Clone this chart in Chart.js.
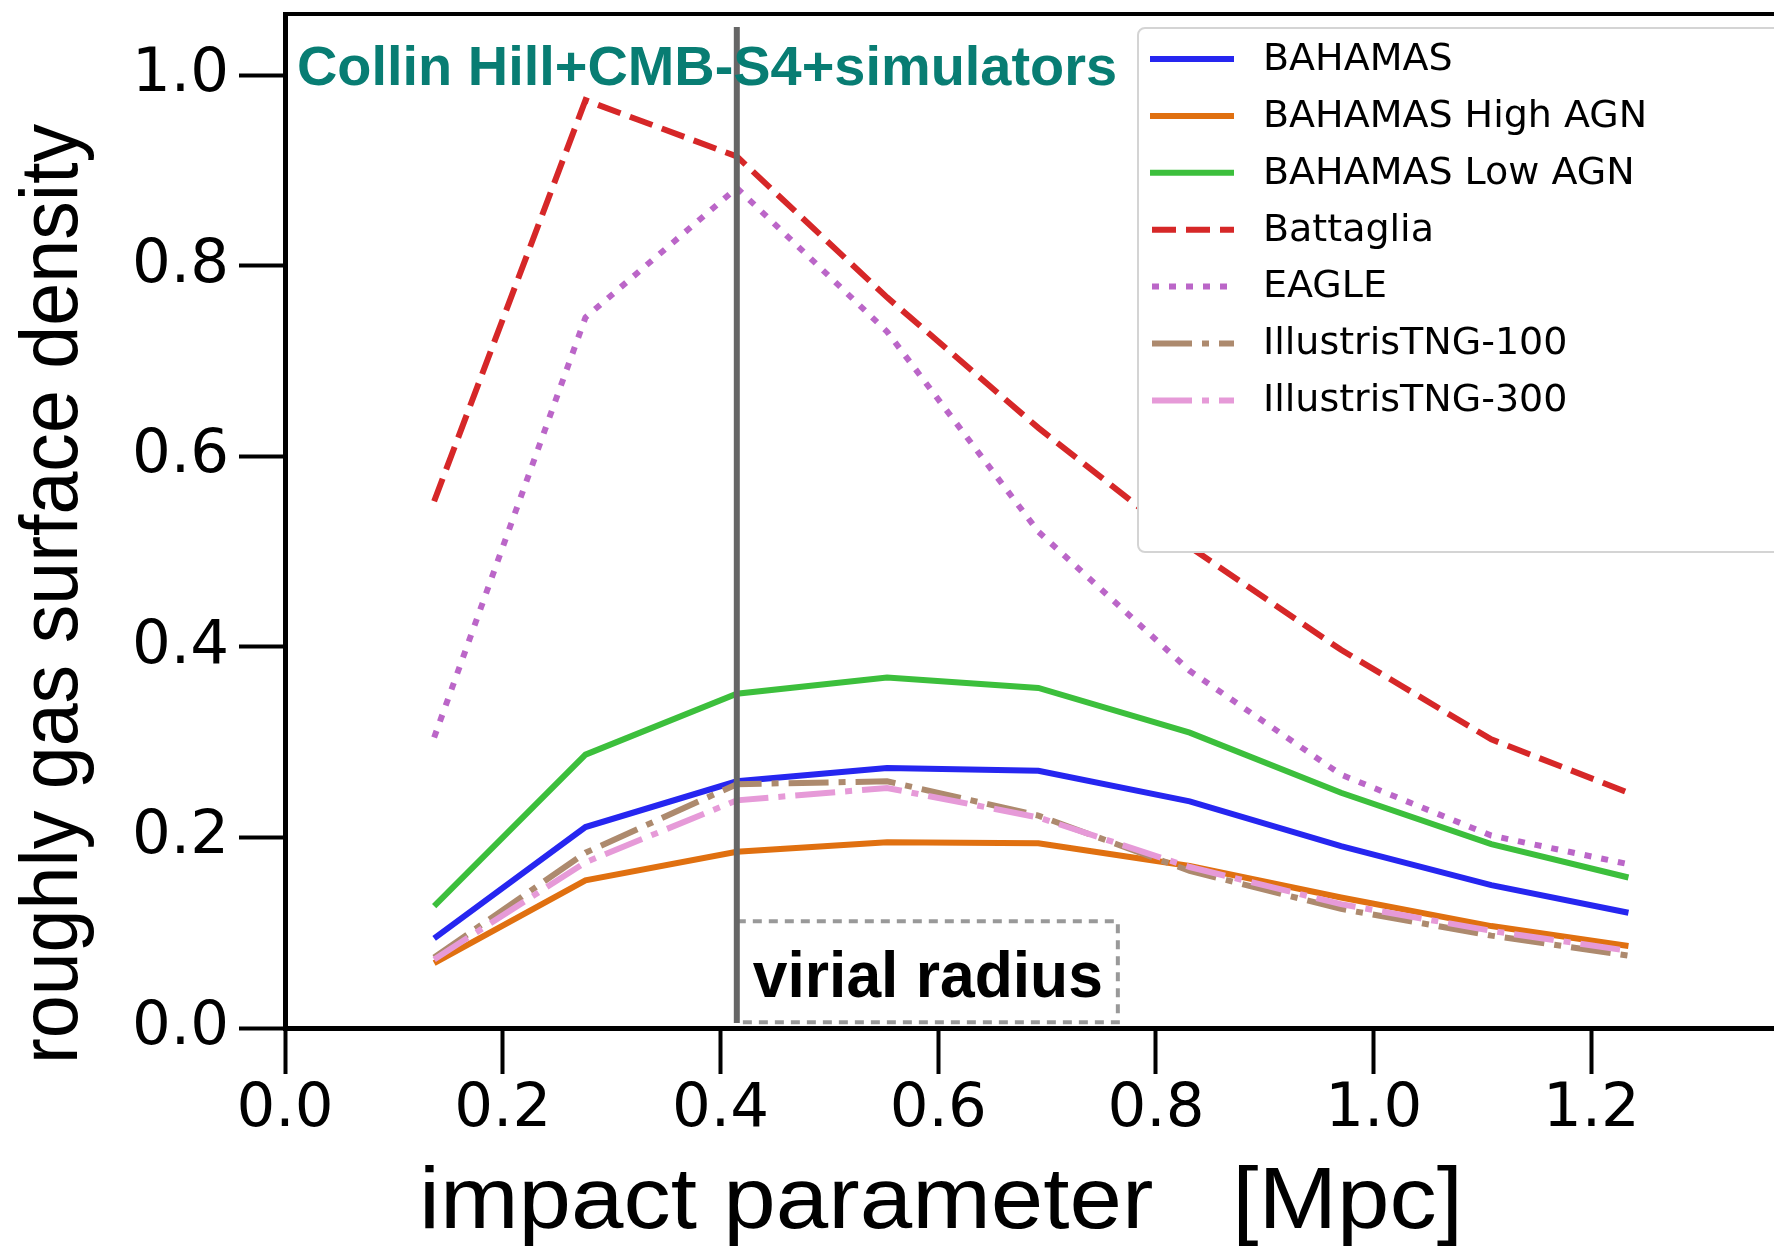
<!DOCTYPE html>
<html>
<head>
<meta charset="utf-8">
<title>roughly gas surface density</title>
<script src="https://cdn.jsdelivr.net/npm/chart.js@4.4.1/dist/chart.umd.min.js"></script>
<style>
  html, body { margin: 0; padding: 0; background: #fff; }
  #wrap { width: 1774px; height: 1248px; }
</style>
</head>
<body>
<div id="wrap"><canvas id="profile-chart" width="1774" height="1248"></canvas></div>
<script>
// impact parameter [Mpc] of each bin
const impactParameter = [0.137, 0.276, 0.415, 0.553, 0.692, 0.831, 0.970, 1.108, 1.234];

const bahamas = [0.094, 0.211, 0.259, 0.273, 0.270, 0.238, 0.191, 0.150, 0.121];
const bahamasHighAGN = [0.068, 0.155, 0.185, 0.195, 0.194, 0.170, 0.137, 0.107, 0.086];
const bahamasLowAGN = [0.128, 0.287, 0.351, 0.368, 0.357, 0.310, 0.247, 0.193, 0.158];
const battaglia = [0.553, 0.974, 0.915, 0.767, 0.630, 0.505, 0.397, 0.303, 0.247];
const eagle = [0.305, 0.746, 0.882, 0.731, 0.521, 0.375, 0.266, 0.202, 0.172];
const tng100 = [0.074, 0.184, 0.256, 0.259, 0.223, 0.165, 0.125, 0.097, 0.076];
const tng300 = [0.072, 0.174, 0.239, 0.252, 0.221, 0.169, 0.130, 0.102, 0.081];

const xTicks = [0, 0.2, 0.4, 0.6, 0.8, 1.0, 1.2];
const yTicks = [0, 0.2, 0.4, 0.6, 0.8, 1.0];

// virial radius marker and its label box (data units)
const virialRadius = 0.415;
const virialBoxRight = 0.765;
const virialBoxTop = 0.112;
const virialBoxBottom = 0.006;

const series = [
  { label: "BAHAMAS", values: bahamas, color: "#2626f0", dash: [] },
  { label: "BAHAMAS High AGN", values: bahamasHighAGN, color: "#e07010", dash: [] },
  { label: "BAHAMAS Low AGN", values: bahamasLowAGN, color: "#3cbf3c", dash: [] },
  { label: "Battaglia", values: battaglia, color: "#d62728", dash: [24, 10] },
  { label: "EAGLE", values: eagle, color: "#bb66c8", dash: [7, 10] },
  { label: "IllustrisTNG-100", values: tng100, color: "#ad8a6e", dash: [40, 10, 7, 10] },
  { label: "IllustrisTNG-300", values: tng300, color: "#e69ad8", dash: [40, 10, 7, 10] }
];

function fitText(ctx, text, x, y, width) {
  const w = ctx.measureText(text).width;
  ctx.save();
  ctx.translate(x, y);
  ctx.scale(width / w, 1);
  ctx.fillText(text, 0, 0);
  ctx.restore();
}

const decorations = {
  id: "decorations",
  afterDatasetsDraw(chart) {
    const { ctx, chartArea, scales: { x, y } } = chart;
    ctx.save();

    // top frame
    ctx.strokeStyle = "#000";
    ctx.lineWidth = 4;
    ctx.beginPath();
    ctx.moveTo(chartArea.left - 2, chartArea.top);
    ctx.lineTo(chartArea.right, chartArea.top);
    ctx.stroke();

    // dashed box round the label
    const vx = x.getPixelForValue(virialRadius);
    const bTop = y.getPixelForValue(virialBoxTop);
    const bBot = y.getPixelForValue(virialBoxBottom);
    ctx.setLineDash([9, 7]);
    ctx.strokeStyle = "#999";
    ctx.lineWidth = 4;
    ctx.strokeRect(vx, bTop, x.getPixelForValue(virialBoxRight) - vx, bBot - bTop);
    ctx.setLineDash([]);

    // virial radius line
    ctx.strokeStyle = "#666";
    ctx.lineWidth = 6;
    ctx.beginPath();
    ctx.moveTo(vx, chartArea.top + 13);
    ctx.lineTo(vx, chartArea.bottom - 5);
    ctx.stroke();

    ctx.fillStyle = "#000";
    ctx.font = "bold 64px 'Liberation Sans', Arial, sans-serif";
    ctx.textBaseline = "alphabetic";
    fitText(ctx, "virial radius", vx + 16, 997, 350);

    ctx.fillStyle = "#087d73";
    ctx.font = "bold 56px 'Liberation Sans', Arial, sans-serif";
    fitText(ctx, "Collin Hill+CMB-S4+simulators", chartArea.left + 12, 85, 820);
    ctx.restore();
  },
  afterDraw(chart) {
    const { ctx } = chart;
    ctx.save();

    // legend
    ctx.fillStyle = "#fff";
    ctx.strokeStyle = "#d4d4d4";
    ctx.lineWidth = 2;
    ctx.beginPath();
    ctx.roundRect(1138, 28, 700, 524, 7);
    ctx.fill();
    ctx.stroke();

    ctx.font = "38px 'DejaVu Sans', sans-serif";
    ctx.textBaseline = "middle";
    chart.data.datasets.forEach((ds, i) => {
      const cy = 59 + i * 56.9;
      ctx.strokeStyle = ds.borderColor;
      ctx.lineWidth = 6;
      ctx.setLineDash(ds.borderDash || []);
      ctx.beginPath();
      ctx.moveTo(ds.borderDash && ds.borderDash.length ? 1152 : 1150, cy);
      ctx.lineTo(1234, cy);
      ctx.stroke();
      ctx.setLineDash([]);
      ctx.fillStyle = "#000";
      ctx.fillText(ds.label, 1263, cy + 1);
    });

    // axis titles
    ctx.fillStyle = "#000";
    ctx.textBaseline = "alphabetic";
    ctx.font = "88px 'Liberation Sans', Arial, sans-serif";
    fitText(ctx, "impact parameter   [Mpc]", 419, 1228, 1044);

    ctx.save();
    ctx.translate(77, 1064);
    ctx.rotate(-Math.PI / 2);
    ctx.font = "82px 'Liberation Sans', Arial, sans-serif";
    fitText(ctx, "roughly gas surface density", 0, 0, 940);
    ctx.restore();

    ctx.restore();
  }
};

function draw() {
  const tickFont = { family: "'DejaVu Sans', sans-serif", size: 61 };
  new Chart("profile-chart", {
    type: "line",
    data: {
      datasets: series.map((s, i) => ({
        label: s.label,
        data: impactParameter.map((r, k) => ({ x: r, y: s.values[k] })),
        borderColor: s.color,
        backgroundColor: s.color,
        borderDash: s.dash,
        borderWidth: 6,
        borderCapStyle: "butt",
        pointRadius: 0,
        tension: 0,
        fill: false,
        order: series.length - i
      }))
    },
    options: {
      responsive: false,
      animation: false,
      devicePixelRatio: 1,
      layout: { padding: { top: 14, right: 0, left: 0, bottom: 0 } },
      plugins: { legend: { display: false }, tooltip: { enabled: false } },
      scales: {
        x: {
          type: "linear",
          min: 0,
          max: 1.3677,
          afterBuildTicks: (scale) => { scale.ticks = xTicks.map(v => ({ value: v })); },
          afterFit: (scale) => {
            scale.height = 220;
            scale.paddingLeft = 0;
            scale.paddingRight = 0;
          },
          ticks: {
            font: tickFont,
            color: "#000",
            padding: 0,
            maxRotation: 0,
            autoSkip: false,
            callback: (v) => v.toFixed(1)
          },
          grid: { drawOnChartArea: false, tickLength: 46, tickWidth: 4, tickColor: "#000" },
          border: { color: "#000", width: 5 }
        },
        y: {
          min: 0,
          max: 1.0645,
          afterBuildTicks: (scale) => { scale.ticks = yTicks.map(v => ({ value: v })); },
          afterFit: (scale) => {
            scale.width = 285;
            scale.paddingTop = 0;
            scale.paddingBottom = 0;
          },
          ticks: {
            font: tickFont,
            color: "#000",
            padding: 10,
            autoSkip: false,
            callback: (v) => v.toFixed(1)
          },
          grid: { drawOnChartArea: false, tickLength: 46, tickWidth: 4, tickColor: "#000" },
          border: { color: "#000", width: 5 }
        }
      }
    },
    plugins: [decorations]
  });
}

const fontsToLoad = [
  "61px 'DejaVu Sans'",
  "38px 'DejaVu Sans'",
  "88px 'Liberation Sans'",
  "bold 56px 'Liberation Sans'"
];
Promise.all(fontsToLoad.map(f => document.fonts.load(f)))
  .then(draw)
  .catch(draw);
</script>
</body>
</html>
